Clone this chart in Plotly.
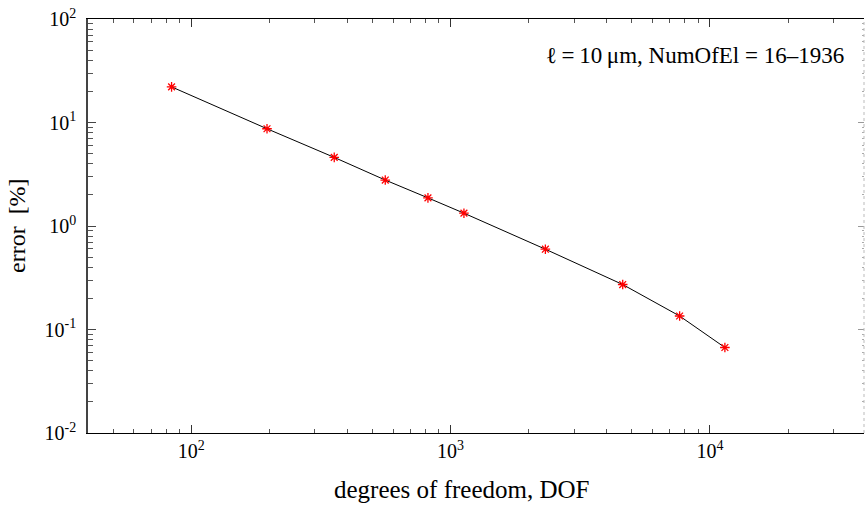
import numpy as np
import plotly.graph_objects as go

dof = [84, 196, 356, 560, 818, 1126, 2320, 4610, 7640, 11420]
error_pct = [22.1, 8.70, 4.60, 2.78, 1.87, 1.33, 0.597, 0.272, 0.135, 0.067]

x_major = [100, 1000, 10000]
x_major_text = ["10<sup>2</sup>", "10<sup>3</sup>", "10<sup>4</sup>"]
y_major = [0.01, 0.1, 1, 10, 100]
y_major_text = ["10<sup>-2</sup>", "10<sup>-1</sup>", "10<sup>0</sup>", "10<sup>1</sup>", "10<sup>2</sup>"]

x_minor = [m * 10 ** e for e in range(1, 5) for m in range(2, 10)]
y_minor = [m * 10.0 ** e for e in range(-2, 2) for m in range(2, 10)]

FONT = "Liberation Serif, Times New Roman, Times, serif"

fig = go.Figure()
fig.add_trace(go.Scatter(
    x=dof, y=error_pct, mode="lines+markers",
    line=dict(color="black", width=1),
    marker=dict(symbol="asterisk-open", size=8, color="red",
                line=dict(color="red", width=1.3)),
    showlegend=False,
))
fig.add_trace(go.Scatter(x=dof[:1], y=error_pct[:1], yaxis="y2", mode="markers",
                         marker=dict(opacity=0), showlegend=False, hoverinfo="skip"))

xr = [np.log10(40), 4.594]
yr = [-2, 2]
PW = 776
PH = 414

fig.update_layout(
    width=865, height=505,
    margin=dict(l=88, r=1, t=19, b=72),
    paper_bgcolor="white", plot_bgcolor="white",
    font=dict(family=FONT, color="black", size=20),
    xaxis=dict(
        type="log", range=xr, showgrid=False, zeroline=False,
        showline=True, linecolor="black", linewidth=1.3, mirror="ticks",
        ticks="inside", ticklen=8, tickwidth=1.3, tickcolor="#333",
        tickmode="array", tickvals=x_major, ticktext=x_major_text,
        tickfont=dict(size=20, family=FONT),
        minor=dict(ticks="inside", ticklen=4, tickwidth=1.3, tickcolor="#555",
                   tickmode="array", tickvals=x_minor, showgrid=False),
    ),
    yaxis=dict(
        type="log", range=yr, showgrid=False, zeroline=False,
        showline=True, linecolor="#444", linewidth=1.5, mirror=False,
        ticks="inside", ticklen=8, tickwidth=1.3, tickcolor="#444",
        tickmode="array", tickvals=y_major, ticktext=y_major_text,
        tickfont=dict(size=20, family=FONT), ticklabelstandoff=6,
        minor=dict(ticks="inside", ticklen=5, tickwidth=1.3, tickcolor="#555",
                   tickmode="array", tickvals=y_minor, showgrid=False),
    ),
    yaxis2=dict(
        type="log", range=yr, overlaying="y", side="right", showgrid=False,
        zeroline=False, showline=False, showticklabels=False,
        ticks="inside", ticklen=6, tickwidth=1, tickcolor="#999",
        tickmode="array", tickvals=y_major,
        minor=dict(ticks="inside", ticklen=2, tickwidth=1, tickcolor="#aaa",
                   tickmode="array", tickvals=y_minor, showgrid=False),
    ),
    annotations=[
        dict(
            text="ℓ\u2009=\u200910\u2009μm, NumOfEl = 16–1936",
            xref="paper", yref="paper", x=(846 - 88) / PW, y=0.913,
            xanchor="right", yanchor="middle", showarrow=False,
            font=dict(size=23, family=FONT, color="black"),
        ),
        dict(
            text="degrees of freedom, DOF",
            xref="paper", yref="paper", x=(461 - 88) / PW, y=(433 - 489) / PH,
            xanchor="center", yanchor="middle", showarrow=False,
            font=dict(size=25, family=FONT, color="black"),
        ),
        dict(
            text="error&nbsp;&nbsp;[%]",
            xref="paper", yref="paper", x=(17 - 88) / PW, y=0.5,
            xanchor="center", yanchor="middle", textangle=-90, showarrow=False,
            font=dict(size=24, family=FONT, color="black"),
        ),
    ],
    shapes=[dict(type="line", xref="paper", yref="paper", x0=1, x1=1, y0=0, y1=1,
                 line=dict(color="#bbb", width=1, dash="dot"))],
)

fig.write_html("out.html")
